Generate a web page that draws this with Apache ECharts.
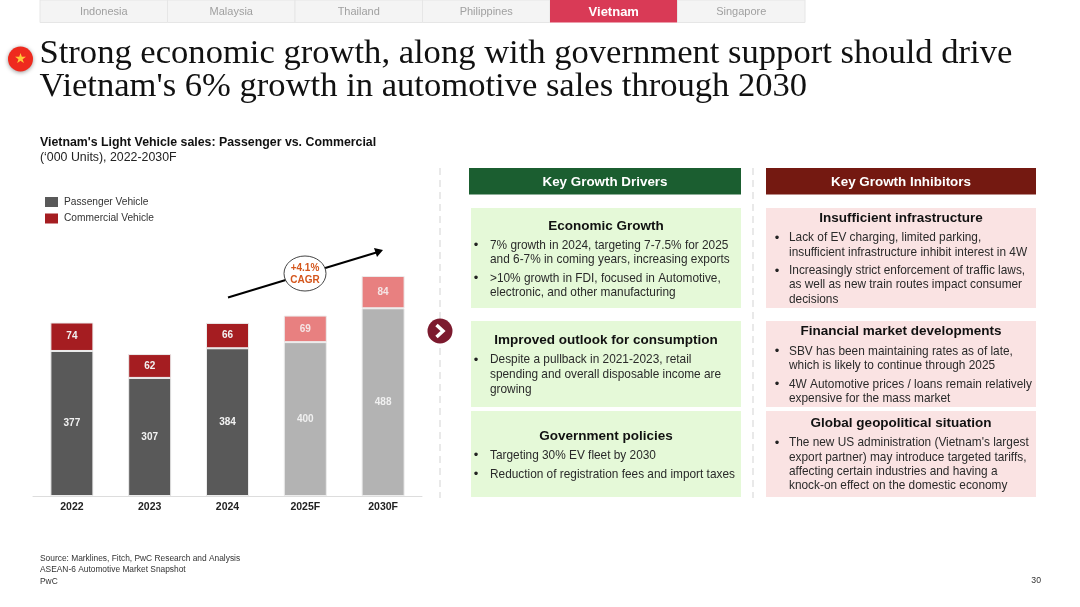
<!DOCTYPE html>
<html>
  <head>
    <meta charset="utf-8" />
    <title>Vietnam Light Vehicle sales</title>
    <script src="https://cdn.jsdelivr.net/npm/echarts@6/dist/echarts.min.js"></script>
    <style type="text/css">
      * {
        margin: 0px;
        padding: 0px;
      }
      body {
        background: #fff;
      }
    </style>
  </head>
  <body>
    <div id="main" style="width: 1080px; height: 607px"></div>
    <script>
      const categories = ["2022", "2023", "2024", "2025F", "2030F"];
      const passenger = [377, 307, 384, 400, 488];
      const commercial = [74, 62, 66, 69, 84];
      const totals = [451, 369, 450, 469, 572];
      const forecastFrom = 3;

      const tabs = ["Indonesia", "Malaysia", "Thailand", "Philippines", "Vietnam", "Singapore"];
      const titleLines = [
        "Strong economic growth, along with government support should drive",
        "Vietnam's 6% growth in automotive sales through 2030",
      ];
      const footer = [
        "Source: Marklines, Fitch, PwC Research and Analysis",
        "ASEAN-6 Automotive Market Snapshot",
        "PwC",
      ];

      // [y, text], bullet true when the line opens a new bullet
      const drivers = [
        { title: "Economic Growth", y: 226, box: [208, 100], lines: [
          [245.5, "7% growth in 2024, targeting 7-7.5% for 2025", true],
          [260, "and 6-7% in coming years, increasing exports"],
          [278.5, ">10% growth in FDI, focused in Automotive,", true],
          [292.5, "electronic, and other manufacturing"],
        ]},
        { title: "Improved outlook for consumption", y: 340, box: [321, 86], lines: [
          [360, "Despite a pullback in 2021-2023, retail", true],
          [375, "spending and overall disposable income are"],
          [390, "growing"],
        ]},
        { title: "Government policies", y: 436, box: [411, 86], lines: [
          [455.5, "Targeting 30% EV fleet by 2030", true],
          [474.5, "Reduction of registration fees and import taxes", true],
        ]},
      ];
      const inhibitors = [
        { title: "Insufficient infrastructure", y: 218.5, box: [208, 100], lines: [
          [238, "Lack of EV charging, limited parking,", true],
          [252.5, "insufficient infrastructure inhibit interest in 4W"],
          [271, "Increasingly strict enforcement of traffic laws,", true],
          [285, "as well as new train routes impact consumer"],
          [299.5, "decisions"],
        ]},
        { title: "Financial market developments", y: 331.5, box: [321, 86], lines: [
          [351.5, "SBV has been maintaining rates as of late,", true],
          [365.5, "which is likely to continue through 2025"],
          [384.5, "4W Automotive prices / loans remain relatively", true],
          [398.5, "expensive for the mass market"],
        ]},
        { title: "Global geopolitical situation", y: 423.5, box: [411, 86], lines: [
          [443, "The new US administration (Vietnam's largest", true],
          [457.5, "export partner) may introduce targeted tariffs,"],
          [472, "affecting certain industries and having a"],
          [486, "knock-on effect on the domestic economy"],
        ]},
      ];

      const SANS = '"Liberation Sans", Arial, sans-serif';
      const g = [];

      function text(x, y, str, size, color, weight, align) {
        g.push({
          type: "text",
          silent: true,
          style: {
            x: x,
            y: y,
            text: str,
            fill: color || "#222",
            font: (weight || "normal") + " " + size + "px " + SANS,
            textAlign: align || "left",
            textVerticalAlign: "middle",
          },
        });
      }
      function rect(x, y, w, h, fill, stroke) {
        g.push({
          type: "rect",
          silent: true,
          shape: { x: x, y: y, width: w, height: h },
          style: { fill: fill, stroke: stroke || null, lineWidth: 1 },
        });
      }
      function dashed(x, y1, y2) {
        g.push({
          type: "line",
          silent: true,
          shape: { x1: x, y1: y1, x2: x, y2: y2 },
          style: { stroke: "#e2e2e2", lineWidth: 1.5, lineDash: [7, 5] },
        });
      }

      // top tabs
      tabs.forEach(function (name, i) {
        const x = 40 + i * 127.5;
        const active = name === "Vietnam";
        rect(x, 0, 127.5, 22.5, active ? "#D93A56" : "#F4F4F4", active ? null : "#E6E6E6");
        text(x + 63.75, 12, name, active ? 13 : 11, active ? "#fff" : "#A0A0A0", active ? "bold" : "normal", "center");
      });

      // flag
      g.push({
        type: "circle",
        silent: true,
        shape: { cx: 20.5, cy: 59, r: 12.5 },
        style: { fill: "#EE2A1E", shadowBlur: 4, shadowColor: "rgba(0,0,0,.4)", shadowOffsetY: 1 },
      });
      g.push({
        type: "text",
        silent: true,
        style: {
          x: 20.5,
          y: 59,
          text: "★",
          fill: "#FFC83A",
          font: '14px "DejaVu Sans"',
          textAlign: "center",
          textVerticalAlign: "middle",
        },
      });

      titleLines.forEach(function (line, i) {
        g.push({
          type: "text",
          silent: true,
          style: {
            x: 39.5,
            y: 54 + i * 33,
            text: line,
            fill: "#111",
            font: '34.6px "Liberation Serif", serif',
            textVerticalAlign: "middle",
          },
        });
      });

      text(40, 142.5, "Vietnam's Light Vehicle sales: Passenger vs. Commercial", 12.35, "#111", "bold");
      text(40, 157.5, "(‘000 Units), 2022-2030F", 12.35, "#222");

      dashed(440, 168, 498);
      dashed(753, 168, 498);

      // CAGR arrow
      g.push({
        type: "line",
        silent: true,
        shape: { x1: 228, y1: 297.5, x2: 378, y2: 252 },
        style: { stroke: "#000", lineWidth: 2 },
      });
      g.push({
        type: "polygon",
        silent: true,
        shape: { points: [[383, 250], [374, 248], [377, 257]] },
        style: { fill: "#000" },
      });
      g.push({
        type: "ellipse",
        silent: true,
        shape: { cx: 305, cy: 273.5, rx: 21, ry: 17.5 },
        style: { fill: "#fff", stroke: "#444", lineWidth: 1 },
      });
      text(305, 268.5, "+4.1%", 10, "#D4561C", "bold", "center");
      text(305, 280.5, "CAGR", 10, "#D4561C", "bold", "center");

      // chevron between chart and panels
      g.push({
        type: "circle",
        silent: true,
        shape: { cx: 440, cy: 331, r: 12.5 },
        style: { fill: "#7C1A2E" },
      });
      g.push({
        type: "polyline",
        silent: true,
        shape: { points: [[436.5, 325], [443, 331], [436.5, 337]] },
        style: { stroke: "#fff", lineWidth: 3.5, fill: null },
      });

      function panel(x, w, head, headColor, boxColor, items, bulletX, textX, titleX) {
        rect(x, 168, w, 26.5, headColor);
        text(x + w / 2, 182, head, 13.4, "#fff", "bold", "center");
        items.forEach(function (it) {
          rect(x + (boxColor === "#E5F9D8" ? 2 : 0), it.box[0], boxColor === "#E5F9D8" ? w - 2 : w, it.box[1], boxColor);
          text(titleX, it.y, it.title, 13.5, "#111", "bold", "center");
          it.lines.forEach(function (l) {
            if (l[2]) text(bulletX, l[0], "•", 13, "#222", "normal", "center");
            text(textX, l[0], l[1], 11.85, "#2a2a2a");
          });
        });
      }
      panel(469, 272, "Key Growth Drivers", "#1B5E30", "#E5F9D8", drivers, 476, 490, 606);
      panel(766, 270, "Key Growth Inhibitors", "#741911", "#FAE3E3", inhibitors, 777, 789, 901);

      footer.forEach(function (line, i) {
        text(40, 558.5 + i * 11.5, line, 8.4, "#333");
      });
      text(1041, 581, "30", 8.7, "#333", "normal", "right");

      // forecast bars get the paler shade
      function items(values, paleColor, paleLabel) {
        return values.map(function (v, i) {
          if (i < forecastFrom) return v;
          return {
            value: v,
            itemStyle: { color: paleColor },
            label: { color: paleLabel },
          };
        });
      }

      let myChart = echarts.init(document.getElementById("main"), null, { renderer: "canvas" });

      let barBase = {
        type: "bar",
        stack: "sales",
        barWidth: 43,
        label: {
          show: true,
          position: "inside",
          color: "#f2f2f2",
          fontFamily: SANS,
          fontSize: 10,
          fontWeight: "bold",
        },
      };

      let option = {
        animation: false,
        backgroundColor: "#fff",
        grid: { left: 33, width: 389, top: 265.2, height: 230.8 },
        legend: {
          data: ["Passenger Vehicle", "Commercial Vehicle"],
          orient: "vertical",
          left: 40,
          top: 191,
          icon: "rect",
          itemWidth: 13,
          itemHeight: 10,
          itemGap: 4.5,
          selectedMode: false,
          itemStyle: { borderWidth: 0 },
          textStyle: { fontFamily: SANS, fontSize: 10.2, color: "#333", lineHeight: 12, padding: [0, 0, 0, 1] },
        },
        xAxis: {
          type: "category",
          data: categories,
          axisTick: { show: false },
          axisLine: { lineStyle: { color: "#dddddd", width: 1 } },
          axisLabel: { color: "#222", fontFamily: SANS, fontSize: 10.5, fontWeight: "bold", margin: 6 },
        },
        yAxis: { type: "value", min: 0, max: 600, show: false },
        series: [
          Object.assign({}, barBase, {
            name: "Passenger Vehicle",
            data: items(passenger, "#B3B3B3", "#f0f0f0"),
            itemStyle: { color: "#595959", borderColor: "#ececec", borderWidth: 1 },
          }),
          Object.assign({}, barBase, {
            name: "Commercial Vehicle",
            data: items(commercial, "#E88080", "#f5e5e5"),
            itemStyle: { color: "#A51D21", borderColor: "#ececec", borderWidth: 1 },
          }),
          {
            name: "Total",
            type: "line",
            data: totals,
            symbolSize: 1,
            itemStyle: { opacity: 0 },
            lineStyle: { width: 0 },
            label: {
              show: true,
              position: "top",
              distance: 3,
              color: "#111",
              fontFamily: SANS,
              fontSize: 10.5,
              fontWeight: "bold",
            },
          },
        ],
        graphic: { elements: g },
      };

      myChart.setOption(option);
    </script>
  </body>
</html>
